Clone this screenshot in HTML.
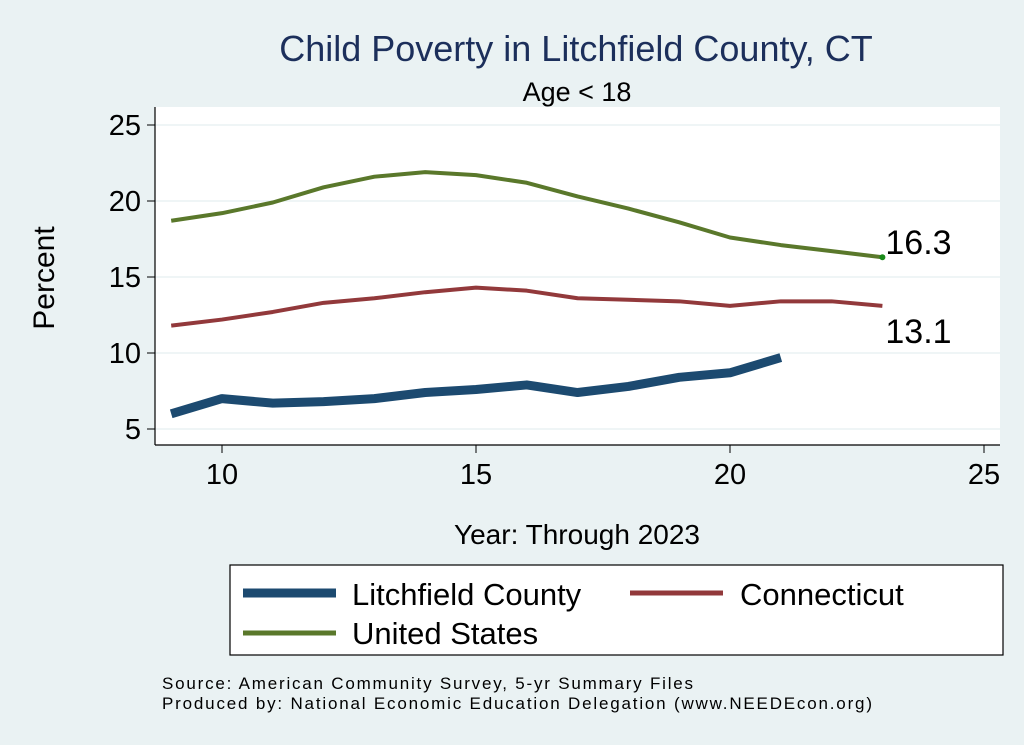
<!DOCTYPE html>
<html><head><meta charset="utf-8"><style>
body{margin:0;background:#eaf2f3;font-family:"Liberation Sans",Arial,sans-serif}
svg{display:block}
</style></head><body>
<svg id="c" width="1024" height="745">
<rect x="0" y="0" width="1024" height="745" fill="#eaf2f3"/>
<rect x="155" y="107" width="845" height="338" fill="#fff"/>
<text x="576" y="61" font-size="36" fill="#1c2f5b" text-anchor="middle">Child Poverty in Litchfield County, CT</text>
<text x="577" y="101" font-size="27" fill="#000" text-anchor="middle">Age &lt; 18</text>
<text x="54" y="278" font-size="30" text-anchor="middle" transform="rotate(-90 54 278)">Percent</text>
<text x="577" y="544" font-size="28" text-anchor="middle">Year: Through 2023</text>
<g id="grid"></g><g id="axes"></g><g id="series"></g>
<rect x="230" y="565" width="773" height="90" fill="#fff" stroke="#000" stroke-width="1.2"/>
<g><line x1="243" y1="593" x2="336" y2="593" stroke="#1c4a70" stroke-width="9"/><text x="352" y="605" font-size="31">Litchfield County</text></g>
<g><line x1="630" y1="593" x2="723" y2="593" stroke="#92393b" stroke-width="5"/><text x="740" y="605" font-size="31">Connecticut</text></g>
<g><line x1="243" y1="633" x2="336" y2="633" stroke="#5a782b" stroke-width="5"/><text x="352" y="644" font-size="31">United States</text></g>
<text x="162" y="689" font-size="17" textLength="531">Source: American Community Survey, 5-yr Summary Files</text>
<text x="162" y="709" font-size="17" textLength="710">Produced by: National Economic Education Delegation (www.NEEDEcon.org)</text>
</svg>
<script>
const years=[9,10,11,12,13,14,15,16,17,18,19,20,21,22,23];
const usValues=[18.7,19.2,19.9,20.9,21.6,21.9,21.7,21.2,20.3,19.5,18.6,17.6,17.1,16.7,16.3];
const ctValues=[11.8,12.2,12.7,13.3,13.6,14.0,14.3,14.1,13.6,13.5,13.4,13.1,13.4,13.4,13.1];
const lcYears=[9,10,11,12,13,14,15,16,17,18,19,20,21];
const lcValues=[6.0,7.0,6.7,6.8,7.0,7.4,7.6,7.9,7.4,7.8,8.4,8.7,9.7];
const xTicks=[10,15,20,25];
const yTicks=[5,10,15,20,25];
const NS='http://www.w3.org/2000/svg';
const xs=v=>222+(v-10)*50.8;
const ys=v=>429-(v-5)*15.2;
function mk(t,a,p){const e=document.createElementNS(NS,t);for(const k in a)e.setAttribute(k,a[k]);p.appendChild(e);return e;}
const grid=document.getElementById('grid'),axes=document.getElementById('axes'),ser=document.getElementById('series');
mk('line',{x1:155,y1:107,x2:155,y2:445,stroke:'#000','stroke-width':1.2},axes);
mk('line',{x1:155,y1:445,x2:1000,y2:445,stroke:'#000','stroke-width':1.2},axes);
yTicks.forEach(t=>{
  const g=mk('line',{x1:155,y1:ys(t),x2:1000,y2:ys(t),stroke:'#eaf2f3','stroke-width':1.5},grid);
  
  
  mk('line',{x1:147,y1:ys(t),x2:155,y2:ys(t),stroke:'#000'},axes);
  const l=mk('text',{x:141,y:ys(t)+10,'font-size':29,'text-anchor':'end'},axes);l.textContent=t;
  
  
});
xTicks.forEach(t=>{
  mk('line',{x1:xs(t),y1:445,x2:xs(t),y2:453,stroke:'#000'},axes);
  const l=mk('text',{x:xs(t),y:484,'font-size':29,'text-anchor':'middle'},axes);l.textContent=t;
  
  
});
function line(xv,yv,col,w,name){
  const p=mk('polyline',{points:xv.map((x,i)=>xs(x)+','+ys(yv[i])).join(' '),fill:'none',stroke:col,'stroke-width':w,'stroke-linejoin':'round'},ser);
  
  
}
line(years,usValues,'#5a782b',4,'line-united-states');
line(years,ctValues,'#92393b',4,'line-connecticut');
line(lcYears,lcValues,'#1c4a70',9,'line-litchfield-county');
const n=years.length-1;
const d=mk('circle',{cx:xs(years[n]),cy:ys(usValues[n]),r:3,fill:'#1a8a1a'},ser);


const l1=mk('text',{x:xs(years[n])+3,y:ys(usValues[n])-3,'font-size':34},ser);l1.textContent=usValues[n].toFixed(1);


const l2=mk('text',{x:xs(years[n])+3,y:ys(ctValues[n])+37,'font-size':34},ser);l2.textContent=ctValues[n].toFixed(1);


</script>
</body></html>
